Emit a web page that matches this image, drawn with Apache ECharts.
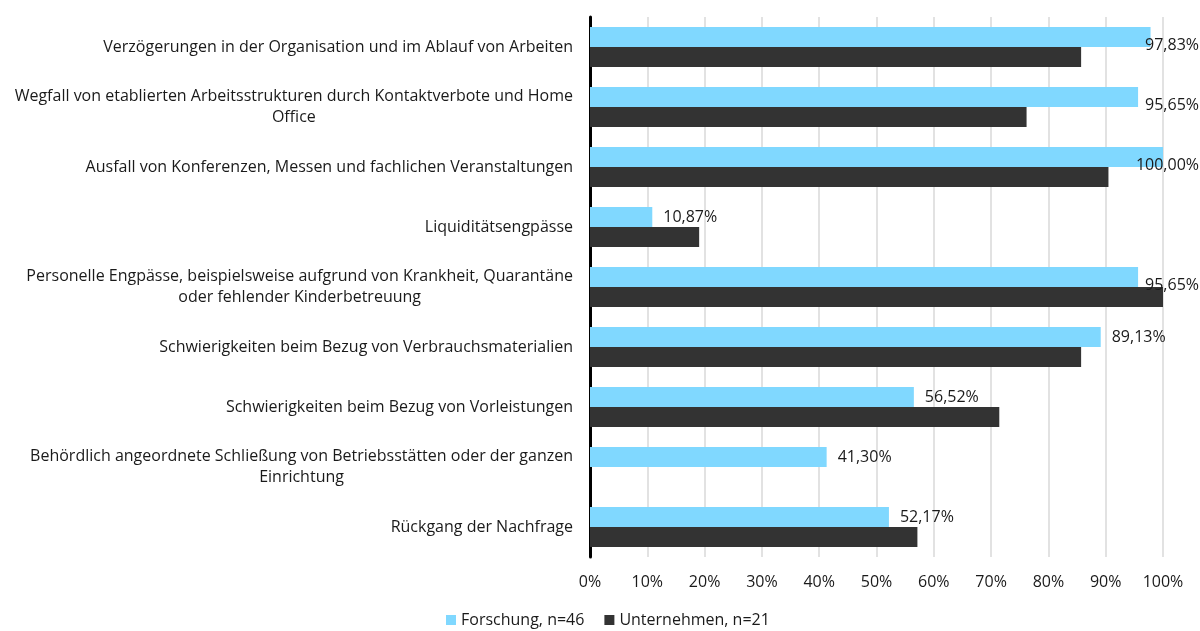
<!DOCTYPE html>
<html>
<head>
<meta charset="utf-8">
<title>Auswirkungen</title>
<script src="https://cdn.jsdelivr.net/npm/echarts@6/dist/echarts.min.js"></script>
<style>
    html, body { margin: 0; padding: 0; background: #fff; }
    #chart1 { width: 1200px; height: 631px; }
</style>
</head>
<body>
<div id="chart1"></div>
<script>
var categories = [
    'Verzögerungen in der Organisation und im Ablauf von Arbeiten',
    'Wegfall von etablierten Arbeitsstrukturen durch Kontaktverbote und Home\nOffice',
    'Ausfall von Konferenzen, Messen und fachlichen Veranstaltungen',
    'Liquiditätsengpässe',
    'Personelle Engpässe, beispielsweise aufgrund von Krankheit, Quarantäne\noder fehlender Kinderbetreuung',
    'Schwierigkeiten beim Bezug von Verbrauchsmaterialien',
    'Schwierigkeiten beim Bezug von Vorleistungen',
    'Behördlich angeordnete Schließung von Betriebsstätten oder der ganzen\nEinrichtung',
    'Rückgang der Nachfrage'
];
var forschung = [97.83, 95.65, 100.00, 10.87, 95.65, 89.13, 56.52, 41.30, 52.17];
var unternehmen = [85.71, 76.19, 90.48, 19.05, 100.00, 85.71, 71.43, 0, 57.14];
var seriesNames = ['Forschung, n=46', 'Unternehmen, n=21'];
var xTicks = [0, 10, 20, 30, 40, 50, 60, 70, 80, 90, 100];

var chart1 = echarts.init(document.getElementById('chart1'));
var fontName = '"Open Sans", Lato, sans-serif';
var textColor = '#1a1a1a';

function pct(v) {
    return v.toFixed(2).replace('.', ',') + '%';
}

var option = {
    animation: false,
    textStyle: { fontFamily: fontName, color: textColor },
    grid: { left: 590, right: 37, top: 17, bottom: 74 },
    legend: {
        data: seriesNames,
        left: 441,
        bottom: -2,
        icon: 'rect',
        itemWidth: 10,
        itemHeight: 10,
        itemGap: 20,
        textStyle: { fontSize: 16, color: textColor, fontFamily: fontName }
    },
    xAxis: {
        type: 'value',
        min: xTicks[0],
        max: xTicks[xTicks.length - 1],
        interval: 10,
        axisLine: { show: false },
        axisTick: { show: false },
        splitLine: { lineStyle: { color: '#d9d9d9', width: 1.5 } },
        axisLabel: {
            formatter: '{value}%',
            fontSize: 16,
            color: textColor,
            margin: 17
        }
    },
    yAxis: {
        type: 'category',
        inverse: true,
        data: categories,
        axisLine: { lineStyle: { color: '#000', width: 3 } },
        axisTick: { show: false },
        axisLabel: {
            margin: 17,
            formatter: function (v) {
                return v.split('\n').map(function (s) { return '{c|' + s + '}'; }).join('\n');
            },
            rich: {
                c: { align: 'center', fontSize: 16, lineHeight: 21, color: textColor, fontFamily: fontName }
            }
        }
    },
    series: [{
        name: seriesNames[0],
        type: 'bar',
        data: forschung,
        barWidth: 20,
        barGap: '0%',
        itemStyle: { color: '#80d8ff' },
        label: {
            show: true,
            position: 'right',
            distance: 11,
            fontSize: 16,
            color: textColor,
            formatter: function (p) { return pct(p.value); }
        },
        labelLayout: function (params) {
            var r = params.labelRect;
            if (r.x + r.width > 1199) {
                return { x: 1199 - r.width };
            }
            return {};
        }
    }, {
        name: seriesNames[1],
        type: 'bar',
        data: unternehmen,
        barWidth: 20,
        barGap: '0%',
        itemStyle: { color: '#333333' }
    }]
};
chart1.setOption(option, true);
</script>
</body>
</html>
